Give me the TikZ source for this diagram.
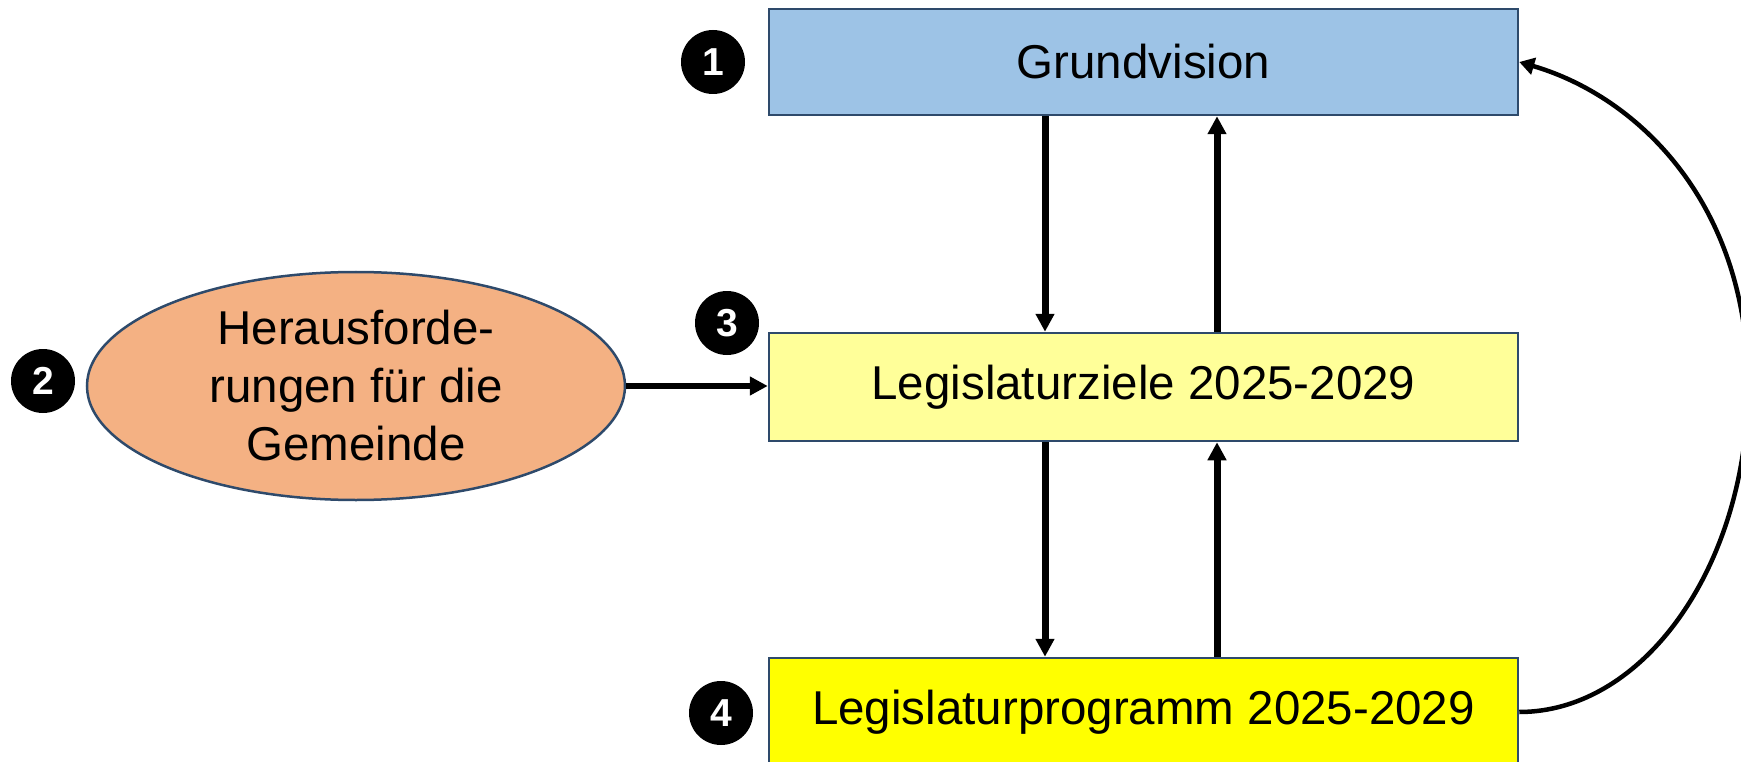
\documentclass[tikz,border=0pt]{standalone}
\usepackage{fontspec}
\setmainfont{Liberation Sans}
\usetikzlibrary{shapes.geometric,arrows.meta,calc}
\definecolor{bordc}{HTML}{2E4A6B}
\definecolor{visionc}{HTML}{9DC3E6}
\definecolor{zielc}{HTML}{FFFF99}
\definecolor{progc}{HTML}{FFFF00}
\definecolor{ellc}{HTML}{F4B183}
\tikzset{
  stepbox/.style={draw=bordc, line width=2.5pt, minimum width=749pt, minimum height=106pt, inner sep=0pt,
    font=\fontsize{47.5}{58}\selectfont},
  numc/.style={circle, fill=black, minimum size=64pt, inner sep=0pt, text=white,
    font=\fontsize{39}{39}\selectfont\bfseries},
  arr/.style={line width=7pt, -{Triangle[length=18pt,width=18pt]}},
  arrthin/.style={line width=4.5pt, -{Triangle[length=15pt,width=17pt]}},
}
\begin{document}
\begin{tikzpicture}[x=1pt,y=-1pt]
\useasboundingbox (0,0) rectangle (1741,762);
\node[stepbox, fill=visionc] (b1) at (1143.5,62) {Grundvision};
\node[stepbox, fill=zielc, minimum height=108pt] (b2) at (1143.5,387) {Legislaturziele 2025-2029};
\node[stepbox, fill=progc, minimum height=108pt] (b3) at (1143.5,712) {Legislaturprogramm 2025-2029};
\node[ellipse, draw=bordc, line width=2.5pt, fill=ellc, minimum width=538pt, minimum height=228pt, inner sep=0pt,
  align=center, font=\fontsize{47.5}{58}\selectfont] (e) at (356,386) {Herausforde-\\rungen für die\\Gemeinde};
\node[numc] (n1) at (713,62) {1};
\node[numc] (n2) at (43,381) {2};
\node[numc] (n3) at (727,323) {3};
\node[numc] (n4) at (721,713) {4};
\coordinate (xd) at (1045,0);
\coordinate (xu) at (1217,0);
\coordinate (cm) at (1748,385);
\draw[arr] (b1.south -| xd) -- (b2.north -| xd);
\draw[arr] (b2.north -| xu) -- (b1.south -| xu);
\draw[arr] (b2.south -| xd) -- (b3.north -| xd);
\draw[arr] (b3.north -| xu) -- (b2.south -| xu);
\draw[line width=6.5pt, -{Triangle[length=18pt,width=18pt]}] (e.east) -- (e.east -| b2.west);
\draw[arrthin] (b3.east) .. controls +(125,0) and +(0,180) .. (cm)
  .. controls +(0,-180) and +(120,35) .. (b1.east);
\end{tikzpicture}
\end{document}
